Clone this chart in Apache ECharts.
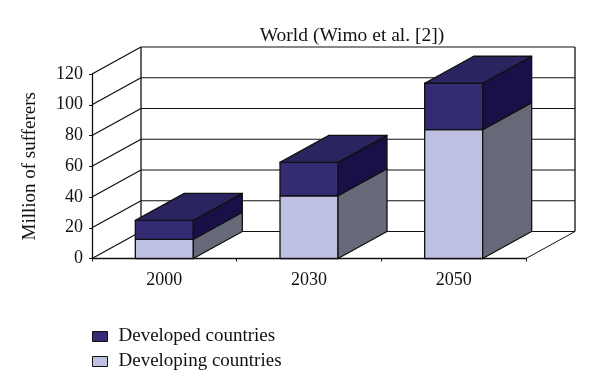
<!DOCTYPE html>
<html>
<head>
<meta charset="utf-8">
<style>html,body{margin:0;padding:0;background:#fff}#c{width:600px;height:391px}</style>
<script src="https://cdn.jsdelivr.net/npm/echarts@6/dist/echarts.min.js"></script>
</head>
<body>
<div id="c"></div>
<script>
const categories = ['2000', '2030', '2050'];
const developing = [12.5, 40.8, 83.8];
const developed = [12.3, 21.7, 30.2];
const yTicks = [0, 20, 40, 60, 80, 100, 120];
const titleText = 'World (Wimo et al. [2])';
const yName = 'Million of sufferers';
const names = ['Developed countries', 'Developing countries'];

const DX = 49, DY = -27, BAR_W = 58;
const FONT = '"Liberation Serif", serif';
const INK = '#111';

function line(x1, y1, x2, y2, w) {
  return { type: 'line', shape: { x1, y1, x2, y2 }, style: { stroke: INK, lineWidth: w || 1, fill: null } };
}
function poly(points, fill) {
  return { type: 'polygon', shape: { points }, style: { fill, stroke: INK, lineWidth: 1.3, lineJoin: 'round' } };
}
function wallItem(params, api) {
  const cs = params.coordSys;
  const y = api.coord([0, api.value(1)])[1];
  const x0 = cs.x, x1 = cs.x + cs.width;
  const kids = [
    line(x0, y, x0 + DX, y + DY, 1.3),
    line(x0 + DX, y + DY, x1 + DX, y + DY, 1)
  ];
  if (api.value(1) === 0) {
    const top = api.coord([0, yTicks[yTicks.length - 1]])[1];
    kids.push(line(x0 + DX, y + DY, x0 + DX, top + DY, 1.3));
    kids.push(line(x1 + DX, y + DY, x1 + DX, top + DY, 1.3));
    kids.push(line(x1, y, x1 + DX, y + DY, 1));
  }
  return { type: 'group', children: kids };
}
function barItem(front, top, side) {
  return function (params, api) {
    const idx = api.value(0);
    const lo = api.coord([idx, api.value(1)]);
    const hi = api.coord([idx, api.value(2)]);
    const l = lo[0] - BAR_W / 2, r = lo[0] + BAR_W / 2;
    const kids = [
      poly([[l, lo[1]], [r, lo[1]], [r, hi[1]], [l, hi[1]]], front),
      poly([[r, lo[1]], [r + DX, lo[1] + DY], [r + DX, hi[1] + DY], [r, hi[1]]], side)
    ];
    if (top) kids.push(poly([[l, hi[1]], [r, hi[1]], [r + DX, hi[1] + DY], [l + DX, hi[1] + DY]], top));
    return { type: 'group', children: kids };
  };
}

const chart = echarts.init(document.getElementById('c'), null, { renderer: 'canvas' });
chart.setOption({
  animation: false,
  backgroundColor: '#fff',
  grid: { left: 92, right: 74, top: 74, bottom: 132.5 },
  title: {
    text: titleText, left: 347, top: 21, textAlign: 'center',
    textStyle: { fontFamily: FONT, fontSize: 19.5, fontWeight: 'normal', color: INK }
  },
  legend: {
    orient: 'vertical', left: 87, top: 322, itemWidth: 15, itemHeight: 10, itemGap: 6, icon: 'rect',
    data: names,
    itemStyle: { borderColor: INK, borderWidth: 1 },
    textStyle: { fontFamily: FONT, fontSize: 19, color: INK, padding: [0, 0, 0, 6] }
  },
  xAxis: {
    type: 'category', data: categories,
    axisLine: { lineStyle: { color: INK, width: 1.3 } },
    axisTick: { show: true, length: 3, alignWithLabel: false, lineStyle: { color: INK } },
    axisLabel: { fontFamily: FONT, fontSize: 18, color: INK, margin: 13 }
  },
  yAxis: {
    type: 'value', min: 0, max: 120, interval: 20,
    name: yName, nameLocation: 'middle', nameGap: 52, nameRotate: 90,
    nameTextStyle: { fontFamily: FONT, fontSize: 19, color: INK },
    axisLine: { show: true, lineStyle: { color: INK, width: 1.3 } },
    axisTick: { show: true, length: 3, lineStyle: { color: INK } },
    axisLabel: { fontFamily: FONT, fontSize: 18, color: INK, margin: 9 },
    splitLine: { show: false }
  },
  series: [
    {
      type: 'custom', name: 'wall', silent: true, z: 1,
      data: yTicks.map(t => [0, t]), encode: { x: 0, y: 1 },
      renderItem: wallItem
    },
    {
      type: 'custom', name: names[1], z: 2,
      itemStyle: { color: '#BFC1E3', borderColor: INK },
      data: categories.map((c, i) => [i, 0, developing[i]]),
      encode: { x: 0, y: [1, 2] },
      renderItem: barItem('#BFC1E3', null, '#666A78')
    },
    {
      type: 'custom', name: names[0], z: 3,
      itemStyle: { color: '#332C73', borderColor: INK },
      data: categories.map((c, i) => [i, developing[i], developing[i] + developed[i]]),
      encode: { x: 0, y: [1, 2] },
      renderItem: barItem('#332C73', '#2A2460', '#1A0F47')
    }
  ]
});
</script>
</body>
</html>
